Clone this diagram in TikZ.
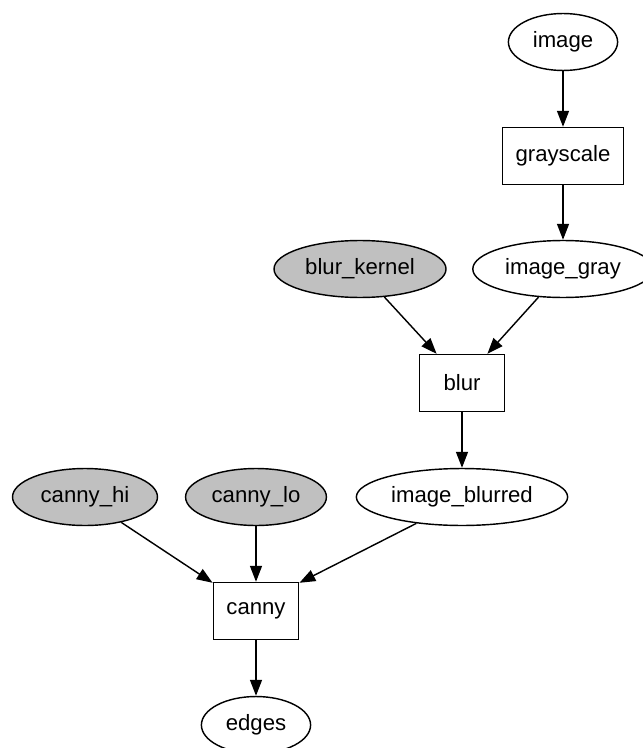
\documentclass[tikz,border=0pt]{standalone}
\usepackage{fontspec}
\setmainfont{Liberation Sans}
\usetikzlibrary{shapes.geometric,arrows.meta}
\definecolor{nodegray}{RGB}{192,192,192}
\begin{document}
\begin{tikzpicture}[x=0.6319pt,y=-0.6319pt,
  base/.style={font=\fontsize{14}{16}\selectfont, inner sep=0pt, line width=0.9pt, draw=black},
  dat/.style={base, ellipse, minimum height=36pt},
  parm/.style={dat, fill=nodegray},
  op/.style={base, rectangle, minimum height=36pt, minimum width=54pt},
  conn/.style={line width=0.9pt, -{Triangle[length=10pt,width=7.5pt]}}
]
\useasboundingbox (0,0) rectangle (642,748);
\node[dat, minimum width=69pt] (image) at (563,42) {image};
\node[op, minimum width=76.5pt] (gray) at (563,156) {grayscale};
\node[dat, minimum width=114pt] (igray) at (563,269) {image\_gray};
\node[parm, minimum width=108.7pt] (bk) at (360,269) {blur\_kernel};
\node[op] (blur) at (462,383) {blur};
\node[dat, minimum width=133.5pt] (iblur) at (462,497) {image\_blurred};
\node[parm, minimum width=91.6pt] (chi) at (85,497) {canny\_hi};
\node[parm, minimum width=89pt] (clo) at (256,497) {canny\_lo};
\node[op] (canny) at (256,611) {canny};
\node[dat, minimum width=69pt] (edges) at (256,725) {edges};
\draw[conn] (image.south) -- (gray.north);
\draw[conn] (gray.south) -- (igray.north);
\draw[conn] (bk.-49) -- (blur.131);
\draw[conn] (igray.-131) -- (blur.49);
\draw[conn] (blur.south) -- (iblur.north);
\draw[conn] (chi.-35) -- (canny.147);
\draw[conn] (clo.south) -- (canny.north);
\draw[conn] (iblur.-150) -- (canny.33);
\draw[conn] (canny.south) -- (edges.north);
\end{tikzpicture}
\end{document}
